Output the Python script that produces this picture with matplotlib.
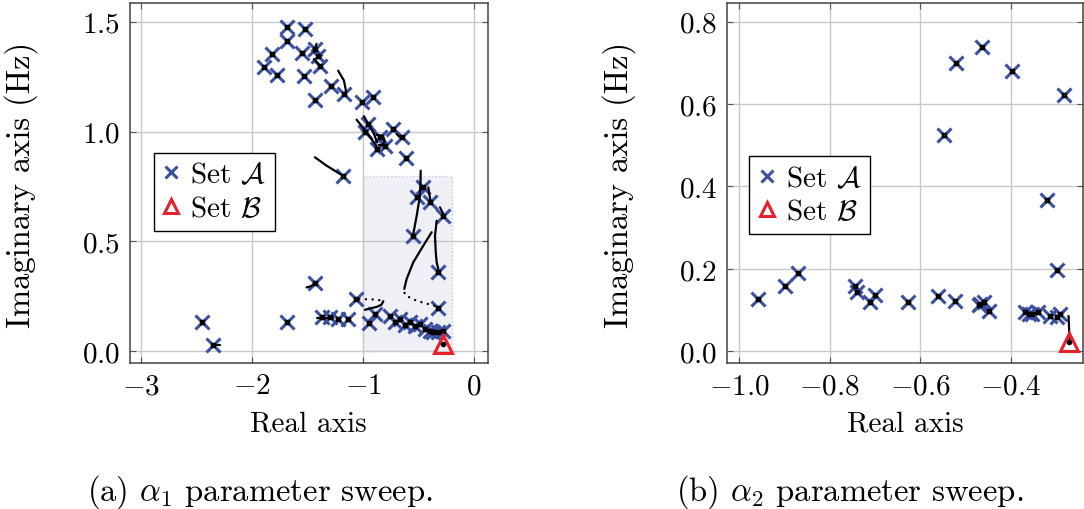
import numpy as np
import matplotlib
matplotlib.use('Agg')
import matplotlib.pyplot as plt
import matplotlib.patches as patches

plt.rcParams['font.family'] = 'serif'
plt.rcParams['font.serif'] = ['cmr10']
plt.rcParams['mathtext.fontset'] = 'cm'
plt.rcParams['axes.formatter.use_mathtext'] = True
plt.rcParams['font.size'] = 21

BLUE = '#3a4fa0'
RED = '#e8202a'

# ---- (a) alpha_1 sweep: set A poles
a1_real = [-1.690, -1.525, -1.690, -1.826, -1.895, -1.781, -1.555, -1.435, -1.405, -1.390,
           -1.532, -1.435, -1.293, -1.173, -1.008, -0.909, -0.954, -0.984, -0.848, -0.878,
           -0.803, -0.728, -0.653, -0.614, -1.185,
           -0.457, -0.517, -0.397, -0.277, -0.548, -0.322, -0.322,
           -1.065, -0.951, -0.894, -0.758, -0.713, -0.668, -0.578, -0.532, -0.487, -0.442,
           -0.397, -0.367, -0.322, -0.277, -0.620,
           -1.375, -1.300, -1.224, -1.134, -1.435, -1.685, -2.449, -2.358]
a1_imag = [1.475, 1.467, 1.414, 1.353, 1.293, 1.258, 1.358, 1.376, 1.345, 1.297,
           1.254, 1.145, 1.206, 1.171, 1.133, 1.156, 1.035, 1.000, 0.974, 0.921,
           0.936, 1.012, 0.974, 0.880, 0.799,
           0.746, 0.701, 0.678, 0.617, 0.523, 0.360, 0.196,
           0.238, 0.128, 0.170, 0.162, 0.132, 0.147, 0.132, 0.117, 0.124, 0.101,
           0.094, 0.086, 0.086, 0.094, 0.120,
           0.155, 0.155, 0.145, 0.147, 0.311, 0.132, 0.132, 0.029]
b1_real = [-0.277]
b1_imag = [0.033]

# root locus traces for (a): solid and dotted
a1_solid = [
    ([-2.358, -2.29], [0.029, 0.029]),
    ([-2.46, -2.44], [0.122, 0.135]),
    ([-1.51, -1.47, -1.435], [0.291, 0.296, 0.311]),
    ([-1.414, -1.27], [0.150, 0.150]),
    ([-0.984, -0.93, -0.878, -0.835, -0.818], [0.189, 0.196, 0.202, 0.212, 0.228]),
    ([-0.382, -0.457, -0.548, -0.608, -0.629], [0.542, 0.481, 0.405, 0.329, 0.284]),
    ([-0.337, -0.352, -0.345, -0.337, -0.322], [0.594, 0.526, 0.450, 0.405, 0.375]),
    ([-0.481, -0.483, -0.490, -0.517, -0.548], [0.822, 0.760, 0.700, 0.617, 0.534]),
    ([-0.412, -0.405, -0.390], [0.746, 0.720, 0.678]),
    ([-0.307, -0.277], [0.655, 0.625]),
    ([-1.435, -1.33, -1.209], [0.883, 0.845, 0.807]),
    ([-1.225, -1.173, -1.155, -1.164], [1.277, 1.232, 1.186, 1.171]),
    ([-1.059, -0.968, -0.878], [1.054, 0.997, 0.933]),
    ([-0.993, -0.954, -0.909, -0.873], [1.070, 1.035, 0.997, 0.951]),
    ([-0.878, -0.82, -0.805, -0.83, -0.86], [0.985, 0.980, 0.955, 0.937, 0.940]),
    ([-1.420, -1.444], [1.399, 1.361]),
    ([-1.444, -1.390], [1.330, 1.300]),
    ([-0.698, -0.668], [0.989, 0.974]),
    ([-0.382, -0.262], [0.094, 0.086]),
]
a1_dotted = [
    ([-1.044, -0.90, -0.848, -0.818], [0.238, 0.236, 0.232, 0.222]),
    ([-0.629, -0.62, -0.517, -0.40, -0.337], [0.270, 0.255, 0.230, 0.213, 0.205]),
]

# ---- (b) alpha_2 sweep
a2_real = [-0.959, -0.900, -0.871, -0.744, -0.740, -0.711, -0.700, -0.626, -0.560, -0.523,
           -0.471, -0.460, -0.467, -0.449, -0.547, -0.521, -0.464, -0.397, -0.283, -0.320,
           -0.298, -0.368, -0.353, -0.339, -0.313, -0.298, -0.290, -0.360]
a2_imag = [0.127, 0.158, 0.190, 0.159, 0.143, 0.120, 0.137, 0.120, 0.135, 0.123,
           0.112, 0.119, 0.115, 0.099, 0.525, 0.700, 0.738, 0.679, 0.622, 0.367,
           0.198, 0.095, 0.091, 0.095, 0.086, 0.083, 0.091, 0.090]
b2_real = [-0.270]
b2_imag = [0.023]
a2_solid = [
    ([-0.272, -0.271, -0.270], [0.086, 0.060, 0.026]),
    ([-0.368, -0.335], [0.093, 0.091]),
]


def style_axes(ax):
    ax.set_axisbelow(True)
    ax.grid(True, color='#c8c8c8', linewidth=1.0)
    ax.tick_params(direction='in', top=True, right=True, length=4, width=0.8,
                   color='#555555', pad=7)
    for s in ax.spines.values():
        s.set_color('#444444')
        s.set_linewidth(1.1)


def draw_panel(ax, ar, ai, br, bi, solid, dotted):
    for xs, ys in solid:
        ax.plot(xs, ys, color='black', lw=1.6, solid_capstyle='round', zorder=3)
    for xs, ys in dotted:
        ax.plot(xs, ys, color='black', lw=1.5, linestyle=(0, (1, 2.2)), zorder=3)
    ax.plot(ar, ai, linestyle='none', marker='x', ms=10, mew=2.2, color=BLUE,
            label=r'Set $\mathcal{A}$', zorder=2)
    ax.plot(ar, ai, linestyle='none', marker='s', ms=2.2, color='black', zorder=4)
    ax.plot(br, bi, linestyle='none', marker='^', ms=12.5, mew=2.2, mfc='none', mec=RED,
            label=r'Set $\mathcal{B}$', zorder=5)
    ax.plot(br, bi, linestyle='none', marker='o', ms=3, color='black', zorder=6)


def add_legend(ax, x0, y0):
    ax.legend(loc='upper left', bbox_to_anchor=(x0, y0), borderaxespad=0,
              fancybox=False, edgecolor='black', framealpha=1, handlelength=0.6,
              handletextpad=0.35, borderpad=0.3, labelspacing=0.25, markerscale=0.85)


fig = plt.figure(figsize=(10.84, 5.10), dpi=100)
ax1 = fig.add_axes([0.1195, 0.2863, 0.3307, 0.7059])
ax2 = fig.add_axes([0.6704, 0.2863, 0.3287, 0.7059])

# (a)
style_axes(ax1)
ax1.add_patch(patches.Rectangle((-1.0, 0.0), 0.8, 0.8, facecolor='#eef0f6',
                                edgecolor='#c8c8d4', linestyle=':', lw=1.0, zorder=0.3))
draw_panel(ax1, a1_real, a1_imag, b1_real, b1_imag, a1_solid, a1_dotted)
ax1.set_xlim(-3.106, 0.126)
ax1.set_ylim(-0.053, 1.585)
ax1.set_xticks([-3, -2, -1, 0])
ax1.set_yticks([0.0, 0.5, 1.0, 1.5])
ax1.set_xlabel('Real axis', labelpad=8)
ax1.set_ylabel('Imaginary axis (Hz)', fontsize=23.5)
ax1.yaxis.set_label_coords(-0.255, 0.497)
add_legend(ax1, 0.068, 0.583)

# (b)
style_axes(ax2)
draw_panel(ax2, a2_real, a2_imag, b2_real, b2_imag, a2_solid, [])
ax2.set_xlim(-1.028, -0.240)
ax2.set_ylim(-0.028, 0.845)
ax2.set_xticks([-1.0, -0.8, -0.6, -0.4])
ax2.set_yticks([0.0, 0.2, 0.4, 0.6, 0.8])
ax2.set_xlabel('Real axis', labelpad=8)
ax2.set_ylabel('Imaginary axis (Hz)', fontsize=23.5)
ax2.yaxis.set_label_coords(-0.255, 0.497)
add_legend(ax2, 0.063, 0.574)

fig.text(0.24, 0.035, r'(a) $\alpha_1$ parameter sweep.', ha='center', va='center',
         fontsize=23.5)
fig.text(0.784, 0.035, r'(b) $\alpha_2$ parameter sweep.', ha='center', va='center',
         fontsize=23.5)

fig.savefig('out.png', dpi=100)
